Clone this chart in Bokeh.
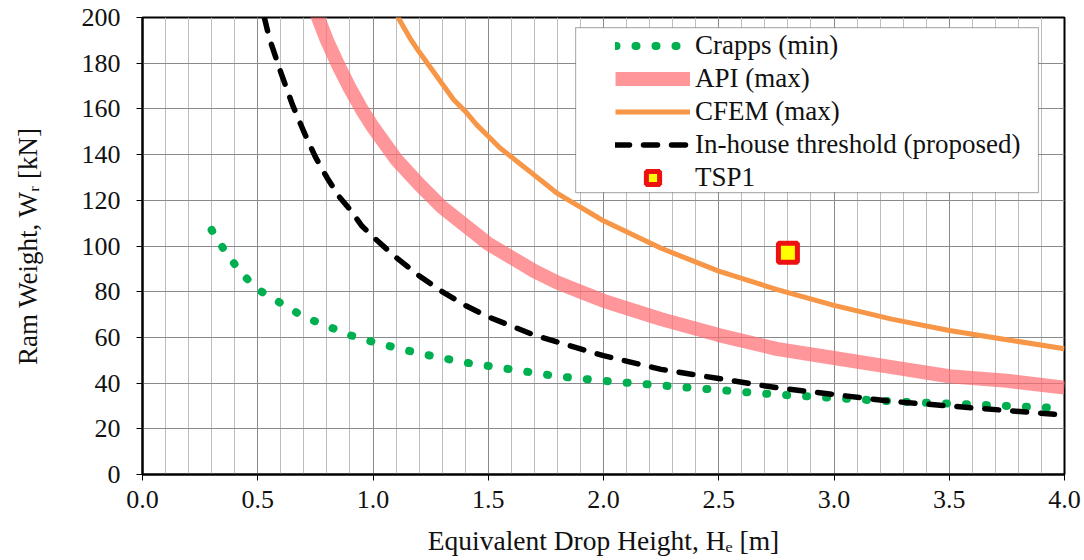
from bokeh.plotting import figure
from bokeh.models import (Range1d, FixedTicker, NumeralTickFormatter, Legend, LegendItem,
                          BoxAnnotation)
from bokeh.embed import file_html
from bokeh.resources import INLINE

# ---- data ----
crapps_h = [0.3, 0.35, 0.4, 0.45, 0.5, 0.6, 0.7, 0.8, 0.9, 1.0, 1.1, 1.2, 1.3, 1.4, 1.5,
            1.6, 1.7, 1.8, 1.9, 2.0, 2.25, 2.5, 2.75, 3.0, 3.25, 3.5, 3.75, 4.0]
crapps_w = [107, 99, 92, 86, 81, 75, 69, 65, 61, 58, 55.5, 53, 51, 49, 47.5,
            46, 44.5, 43, 42, 41, 39, 37, 35, 33.5, 32, 31, 30, 29]

api_h = [0.7, 0.75, 0.8, 0.85, 0.9, 0.95, 1.0, 1.1, 1.2, 1.3, 1.4, 1.5, 1.6, 1.7, 1.8,
         1.9, 2.0, 2.25, 2.5, 2.75, 3.0, 3.25, 3.5, 3.75, 4.0]
api_w = [217, 203, 190, 179, 169, 160, 152, 138, 127, 117, 109, 101, 95, 89, 84,
         80, 76, 68, 61, 55, 51, 47, 43, 41, 38]

cfem_h = [1.08, 1.12, 1.16, 1.2, 1.25, 1.3, 1.35, 1.4, 1.45, 1.5, 1.55, 1.6, 1.65, 1.7,
          1.75, 1.8, 1.85, 1.9, 1.95, 2.0, 2.25, 2.5, 2.75, 3.0, 3.25, 3.5, 3.75, 4.0]
cfem_w = [206, 198, 191, 185, 178, 171, 164, 159, 153, 148, 143, 139, 135, 131,
          127, 123, 120, 117, 114, 111, 99, 89, 81, 74, 68, 63, 59, 55]

inhouse_h = [0.5, 0.55, 0.6, 0.65, 0.7, 0.75, 0.8, 0.85, 0.9, 0.95, 1.0, 1.1, 1.2, 1.3,
             1.4, 1.5, 1.6, 1.7, 1.8, 1.9, 2.0, 2.25, 2.5, 2.75, 3.0, 3.25, 3.5, 3.75, 4.0]
inhouse_w = [212, 191, 176, 162, 150, 139, 130, 122, 116, 109, 104, 95, 87, 80,
             74, 69, 65, 61, 58, 55, 52, 46, 42, 38, 35, 32, 30, 28, 26]

tsp1_h = [2.8]
tsp1_w = [97]

x_ticks = [0.0, 0.5, 1.0, 1.5, 2.0, 2.5, 3.0, 3.5, 4.0]
x_minor = [round(i * 0.1, 1) for i in range(41)]
y_ticks = [0, 20, 40, 60, 80, 100, 120, 140, 160, 180, 200]

FONT = "Liberation Serif"

p = figure(width=1084, height=560, output_backend="svg", toolbar_location=None,
           x_range=Range1d(0, 4), y_range=Range1d(0, 200),
           min_border_left=142, min_border_right=20, min_border_top=17, min_border_bottom=86)
p.title = None
p.background_fill_color = "white"
p.border_fill_color = "white"
p.outline_line_color = "black"
p.outline_line_width = 2

p.xaxis.ticker = FixedTicker(ticks=x_ticks, minor_ticks=x_minor)
p.yaxis.ticker = FixedTicker(ticks=y_ticks)
p.xaxis.formatter = NumeralTickFormatter(format="0.0")

for ax in (p.xaxis[0], p.yaxis[0]):
    ax.axis_line_color = "black"
    ax.axis_line_width = 2
    ax.major_tick_line_color = "black"
    ax.major_tick_line_width = 1
    ax.major_tick_out = 6
    ax.major_tick_in = 0
    ax.minor_tick_out = 0
    ax.minor_tick_in = 0
    ax.major_label_text_font = FONT
    ax.major_label_text_font_size = "26px"
    ax.major_label_text_color = "#111111"
    ax.axis_label_text_font = FONT
    ax.axis_label_text_font_size = "27px"
    ax.axis_label_text_font_style = "normal"
    ax.axis_label_text_color = "#111111"

p.xaxis.axis_label = "Equivalent Drop Height, H\u2091 [m]"
p.yaxis.axis_label = "Ram Weight, W\u1d63 [kN]"
p.xaxis.axis_label_text_font_size = "27.5px"
p.yaxis.major_label_standoff = 16
p.xaxis.major_label_standoff = 10
p.yaxis.axis_label_standoff = 36
p.xaxis.axis_label_standoff = 14

p.xgrid.grid_line_color = "#8a8a8a"
p.xgrid.grid_line_width = 1
p.xgrid.minor_grid_line_color = "#bdbdbd"
p.xgrid.minor_grid_line_width = 1
p.ygrid.grid_line_color = "#8a8a8a"
p.ygrid.grid_line_width = 1

r_crapps = p.line(crapps_h, crapps_w, line_color="#00b050", line_width=8,
                  line_dash="1 19", line_cap="round")
r_api = p.line(api_h, api_w, line_color="#ff6f73", line_alpha=0.72, line_width=14,
               line_join="round")
r_cfem = p.line(cfem_h, cfem_w, line_color="#f79646", line_width=5, line_join="round")
r_inh = p.line(inhouse_h, inhouse_w, line_color="black", line_width=5.5,
               line_dash="14 14", line_cap="round", line_join="round")
r_tsp = p.scatter(tsp1_h, tsp1_w, marker="square", size=19, fill_color="#ffff00",
                  line_color="#ee1111", line_width=5)

# legend frame
box = BoxAnnotation(left=1.879, right=3.887, bottom=123.4, top=195.6,
                    fill_color="white", fill_alpha=1.0,
                    line_color="black", line_width=1.2)
p.add_layout(box)

legend = Legend(items=[
    LegendItem(label="Crapps (min)", renderers=[r_crapps]),
    LegendItem(label="API (max)", renderers=[r_api]),
    LegendItem(label="CFEM (max)", renderers=[r_cfem]),
    LegendItem(label="In-house threshold (proposed)", renderers=[r_inh]),
    LegendItem(label="TSP1", renderers=[r_tsp]),
], location=(473, 280), padding=0, margin=0, spacing=0,
   glyph_width=75, glyph_height=33, label_height=33, label_standoff=5,
   label_text_font=FONT, label_text_font_size="27px", label_text_color="#111111",
   background_fill_alpha=0, border_line_alpha=0)
p.add_layout(legend)

open("out.html", "w").write(file_html(p, INLINE))
